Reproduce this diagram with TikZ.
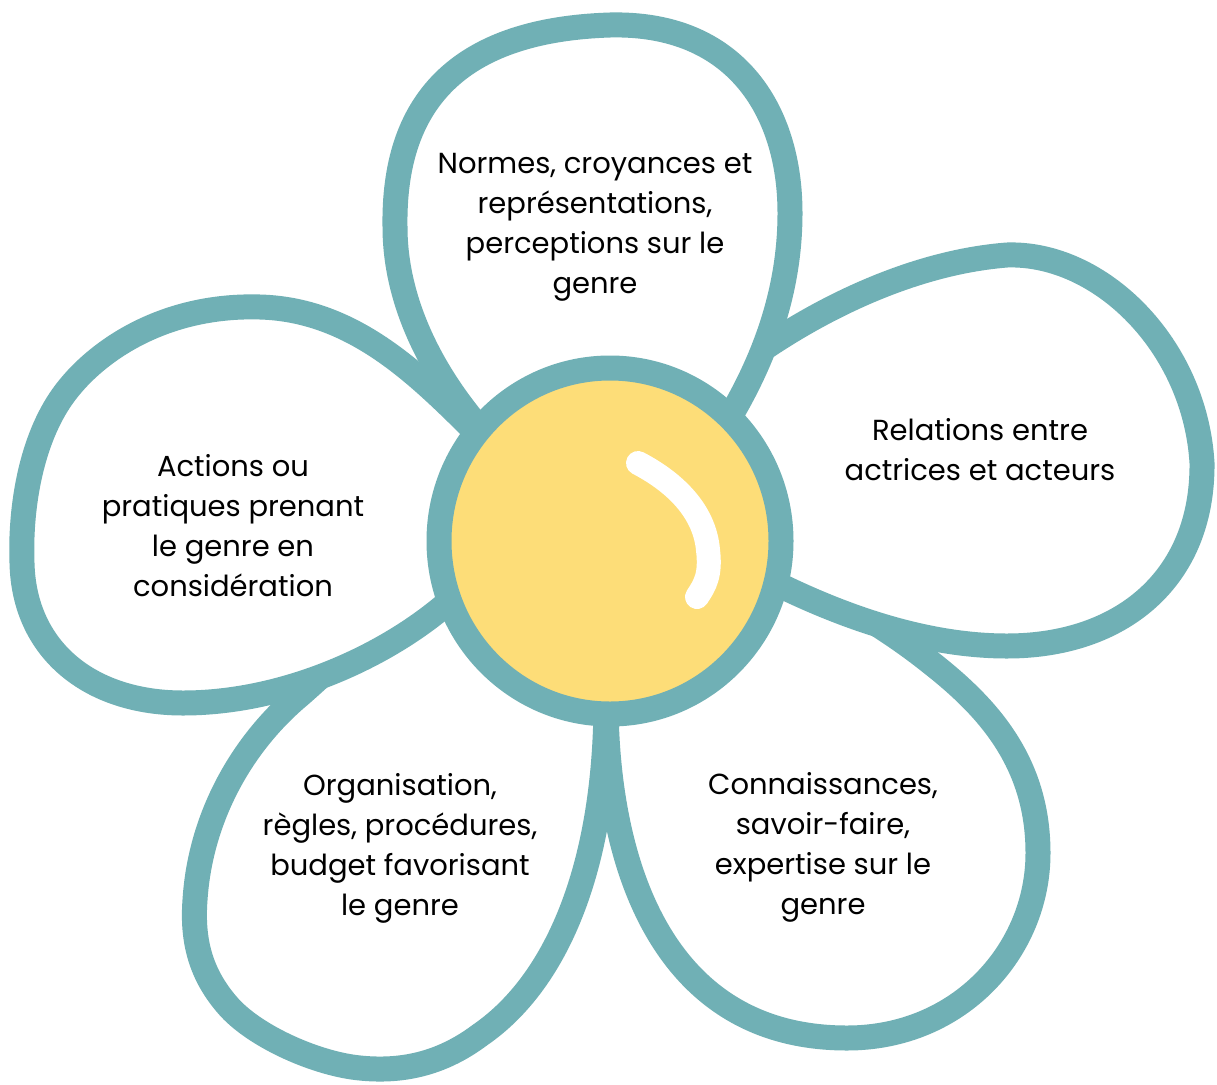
\documentclass[tikz,border=0pt]{standalone}
\usepackage{fontspec}
\setmainfont{Poppins}
\definecolor{petalteal}{RGB}{112,176,181}
\definecolor{heartyellow}{RGB}{253,221,120}
\tikzset{
  petal/.style={draw=petalteal, fill=white, line width=25pt, line join=round},
  petaltext/.style={align=center, inner sep=0pt, font=\fontsize{29}{40}\selectfont},
}
\begin{document}
\begin{tikzpicture}[x=1pt, y=-1pt,]
    \fill[white] (0,0) rectangle (1217,1084);
    \useasboundingbox (0,0) rectangle (1217,1084);
    % petals, drawn back to front
    \draw[petal] (610,541) -- (606,700) .. controls (606,860) and (560,980) .. (480,1035)
      .. controls (440,1065) and (400,1072) .. (360,1068)
      .. controls (318,1064) and (258,1038) .. (230,1008)
      .. controls (200,975) and (192,940) .. (195,900)
      .. controls (200,820) and (240,745) .. (300,695)
      .. controls (340,660) and (400,600) .. (470,560) -- cycle;% bottom left
    \draw[petal] (610,541) -- (606,700) .. controls (606,860) and (660,1038) .. (847,1038)
      .. controls (960,1038) and (1038,950) .. (1038,853)
      .. controls (1038,760) and (985,705) .. (930,662)
      .. controls (890,630) and (840,600) .. (780,570) -- cycle;% bottom right
    \draw[petal] (610,541) -- (500,455) .. controls (440,400) and (370,310) .. (260,307)
      .. controls (160,304) and (90,355) .. (60,400)
      .. controls (30,445) and (20,510) .. (22,563)
      .. controls (24,650) and (90,703) .. (183,703)
      .. controls (280,703) and (380,660) .. (445,605) -- cycle;% left
    \draw[petal] (610,541) -- (710,390) .. controls (760,345) and (880,265) .. (1007,255)
      .. controls (1100,252) and (1195,345) .. (1202,463)
      .. controls (1203,580) and (1120,646) .. (1007,646)
      .. controls (930,646) and (850,620) .. (775,583) -- cycle;% right
    \draw[petal] (610,541) -- (490,440) .. controls (435,380) and (395,305) .. (395,227)
      .. controls (393,105) and (455,30) .. (610,25)
      .. controls (735,22) and (790,110) .. (790,213)
      .. controls (790,290) and (765,360) .. (725,425) -- cycle;% top
    % heart of the flower
    \draw[petal, fill=heartyellow] (610,541) circle[x radius=171pt, y radius=173pt];
    \draw[white, line width=24pt, line cap=round] (638,463)
      .. controls (680,485) and (705,515) .. (708,550)
      .. controls (711,575) and (705,585) .. (697,597);
    % texts of the petals
    \foreach \px/\py/\name/\txt in {
        595/227/normes/{Normes, croyances et\\représentations,\\perceptions sur le\\genre},
        980/450/relations/{Relations entre\\actrices et acteurs},
        233/526/actions/{Actions ou\\pratiques prenant\\le genre en\\considération},
        400/848/organisation/{Organisation,\\règles, procédures,\\budget favorisant\\le genre},
        823/847/connaissances/{Connaissances,\\savoir-faire,\\expertise sur le\\genre}%
    } {
        \node[petaltext] (\name) at (\px,\py) {\txt};
    }
\end{tikzpicture}
\end{document}
